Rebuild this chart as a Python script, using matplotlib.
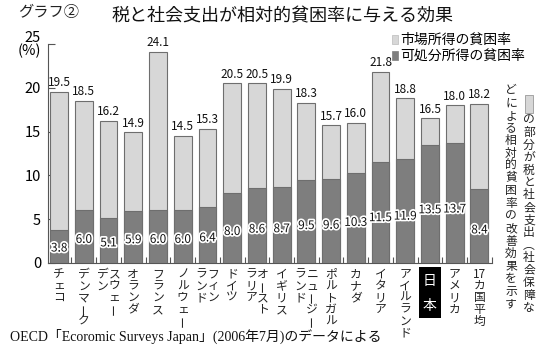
import re
import matplotlib
matplotlib.use("Agg")
import matplotlib.pyplot as plt
from matplotlib.patches import Patch, Rectangle
from matplotlib import patheffects as pe
from matplotlib.transforms import blended_transform_factory

plt.rcParams["font.family"] = ["Noto Sans CJK JP", "DejaVu Sans"]

countries = ["チェコ", "デンマーク", "スウェーデン", "オランダ", "フランス", "ノルウェー",
             "フィンランド", "ドイツ", "オーストラリア", "イギリス", "ニュージーランド",
             "ポルトガル", "カナダ", "イタリア", "アイルランド", "日本", "アメリカ", "17カ国平均"]
market = [19.5, 18.5, 16.2, 14.9, 24.1, 14.5, 15.3, 20.5, 20.5, 19.9, 18.3, 15.7,
          16.0, 21.8, 18.8, 16.5, 18.0, 18.2]
disposable = [3.8, 6.0, 5.1, 5.9, 6.0, 6.0, 6.4, 8.0, 8.6, 8.7, 9.5, 9.6,
              10.3, 11.5, 11.9, 13.5, 13.7, 8.4]
yticks = [0, 5, 10, 15, 20, 25]
ytick_labels = ["0", "5", "10", "15", "20", "25\n(%)"]
legend_labels = ["市場所得の貧困率", "可処分所得の貧困率"]
title = "税と社会支出が相対的貧困率に与える効果"
graph_no = "グラフ②"
note_right = "の部分が税と社会支出（社会保障な"
note_left = "どによる相対的貧困率の改善効果を示す"
source = "OECD「Ecoromic Surveys Japan」(2006年7月)のデータによる"

# where the two-column country names break (right column first)
breaks = {"スウェーデン": 4, "フィンランド": 3, "オーストラリア": 4, "ニュージーランド": 5}

LIGHT = "#d7d7d7"
DARK = "#7e7e7e"
EDGE = "#6e6e6e"
W, H = 554, 345

fig = plt.figure(figsize=(W / 100, H / 100), dpi=100)
ax = fig.add_axes([48 / W, 82 / H, 444 / W, 219 / H])

x = list(range(len(countries)))
ax.bar(x, market, width=0.72, color=LIGHT, edgecolor=EDGE, linewidth=0.8, zorder=2)
ax.bar(x, disposable, width=0.72, color=DARK, edgecolor=EDGE, linewidth=0.8, zorder=3)

for i in x:
    ax.annotate(f"{market[i]:.1f}", (i, market[i]), xytext=(0, 2), textcoords="offset points",
                ha="center", va="bottom", fontsize=8.5, color="#111")
    ax.text(i, disposable[i] * 0.45, f"{disposable[i]:.1f}", ha="center", va="center",
            fontsize=8.5, color="#111", zorder=5,
            path_effects=[pe.withStroke(linewidth=2.5, foreground="white")])

ax.set_xlim(-0.45, 17.51)
ax.set_ylim(0, 25)
ax.set_yticks(yticks)
ax.set_yticklabels(ytick_labels, fontsize=10.5, linespacing=0.85)
ax.set_xticks([i + 0.5 for i in x])
ax.set_xticklabels([])
ax.tick_params(axis="y", direction="in", length=5, width=0.8, color="#555", pad=5)
ax.tick_params(axis="x", direction="in", length=4, width=0.8, color="#555")
for s in ["top", "right"]:
    ax.spines[s].set_visible(False)
for s in ["left", "bottom"]:
    ax.spines[s].set_color("#555")
    ax.spines[s].set_linewidth(0.8)

ax.legend([Patch(facecolor=LIGHT, edgecolor="#bbb", linewidth=0.5),
           Patch(facecolor=DARK, edgecolor=DARK, linewidth=0.5)],
          legend_labels, loc="upper left", bbox_to_anchor=(392 / W, 1 - 33 / H),
          bbox_transform=fig.transFigure, frameon=False, fontsize=10,
          handlelength=0.45, handleheight=0.6, handletextpad=0.15,
          labelspacing=0.15, borderpad=0, borderaxespad=0)


def tokens(s):
    return re.findall(r"\d+|.", s)


def vtext(xpos, top, s, pitch, transform, **kw):
    for k, ch in enumerate(tokens(s)):
        rot = 90 if ch == "ー" else 0
        ch = {"（": "︵", "）": "︶"}.get(ch, ch)
        fig.text(xpos, 1 - (top + k * pitch) / H, ch, rotation=rot, ha="center",
                 va="center", transform=transform, **kw)


blend = blended_transform_factory(ax.transData, fig.transFigure)
for i, name in enumerate(countries):
    if name == "日本":
        fig.add_artist(Rectangle((i - 0.45, 1 - 318 / H), 0.9, 51 / H, transform=blend,
                                 facecolor="black", edgecolor="none"))
        vtext(i, 281, name, 25, blend, fontsize=10, color="white")
    elif name in breaks:
        b = breaks[name]
        vtext(i + 0.24, 274, name[:b], 11.8, blend, fontsize=8.5, color="#222")
        vtext(i - 0.24, 274, name[b:], 11.8, blend, fontsize=8.5, color="#222")
    else:
        vtext(i, 274, name, 11.8, blend, fontsize=8.5, color="#222")

# side note, written vertically (right column first)
fig.add_artist(Rectangle((525 / W, 1 - 113 / H), 8 / W, 18 / H, transform=fig.transFigure,
                         facecolor=LIGHT, edgecolor="#999", linewidth=0.6))
vtext(529 / W, 120, note_right, 12.5, fig.transFigure, fontsize=8.5, color="#222")
vtext(511 / W, 90, note_left, 12.6, fig.transFigure, fontsize=8.5, color="#222")

fig.text(18 / W, 1 - 13 / H, graph_no, ha="left", va="center", fontsize=11, color="#222")
fig.text(282 / W, 1 - 16 / H, title, ha="center", va="center", fontsize=13, color="#111")
fig.text(10 / W, 1 - 336 / H, source, ha="left", va="center", fontsize=10, color="#111",
         family=["Liberation Serif", "Noto Sans CJK JP"])

fig.savefig("out.png", dpi=100)
